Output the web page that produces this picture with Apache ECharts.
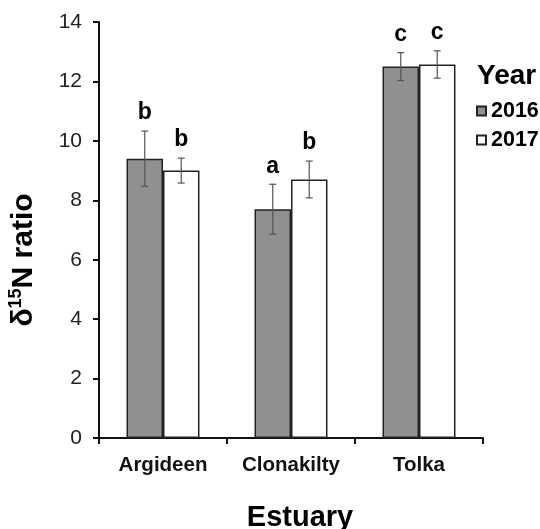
<!DOCTYPE html>
<html>
<head>
<meta charset="utf-8">
<script src="https://cdn.jsdelivr.net/npm/echarts@6/dist/echarts.min.js"></script>
<style>
  html, body { margin: 0; padding: 0; background: #fff; }
  #chart { width: 540px; height: 529px; }
</style>
</head>
<body>
<div id="chart"></div>
<script>
const categories = ['Argideen', 'Clonakilty', 'Tolka']
const mean2016 = [9.4, 7.7, 12.5]
const mean2017 = [9.0, 8.7, 12.57]
const err2016 = [0.93, 0.84, 0.47]
const err2017 = [0.42, 0.62, 0.46]
const letters2016 = ['b', 'a', 'c']
const letters2017 = ['b', 'b', 'c']
const yMin = 0
const yMax = 14
const yStep = 2

const FONT = "'Liberation Sans', Arial, sans-serif"
const BAR_FRAC = 0.285

const chart = echarts.init(document.getElementById('chart'))

// error bars + significance letters, shifted onto their bar
const errorSeries = (means, errs, letters, side) => ({
  type: 'custom',
  silent: true,
  z: 5,
  data: means.map((m, i) => [i, m, errs[i]]),
  renderItem: (params, api) => {
    const i = api.value(0)
    const m = api.value(1)
    const e = api.value(2)
    const catW = api.size([1, 0])[0]
    const off = side * catW * BAR_FRAC / 2
    const top = api.coord([i, m + e])
    const bot = api.coord([i, m - e])
    const x = top[0] + off
    const cap = 3.5
    const ls = { stroke: '#555', lineWidth: 1.2 }
    return {
      type: 'group',
      children: [
        { type: 'line', shape: { x1: x, y1: top[1], x2: x, y2: bot[1] }, style: ls },
        { type: 'line', shape: { x1: x - cap, y1: top[1], x2: x + cap, y2: top[1] }, style: ls },
        { type: 'line', shape: { x1: x - cap, y1: bot[1], x2: x + cap, y2: bot[1] }, style: ls },
        {
          type: 'text',
          style: {
            text: letters[params.dataIndex],
            x: x,
            y: top[1] - 18,
            align: 'center',
            verticalAlign: 'middle',
            font: 'bold 23px ' + FONT,
            fill: '#000'
          }
        }
      ]
    }
  }
})

const option = {
  animation: false,
  textStyle: { fontFamily: FONT },
  grid: { left: 99, right: 57, top: 22, bottom: 91 },
  title: {
    text: 'Year',
    left: 477,
    top: 62,
    padding: 0,
    textStyle: { fontFamily: FONT, fontWeight: 'bold', fontSize: 28, color: '#000' }
  },
  legend: {
    data: ['2016', '2017'],
    orient: 'vertical',
    left: 476,
    top: 100,
    padding: 0,
    icon: 'rect',
    itemWidth: 9,
    itemHeight: 9,
    itemGap: 7,
    textStyle: { fontFamily: FONT, fontWeight: 'bold', fontSize: 21.5, color: '#000' }
  },
  xAxis: {
    type: 'category',
    data: categories,
    axisLine: { lineStyle: { color: '#111', width: 2 } },
    axisTick: { show: true, length: 6, lineStyle: { color: '#111', width: 2 } },
    axisLabel: { margin: 17, fontFamily: FONT, fontWeight: 'bold', fontSize: 20.5, color: '#111' }
  },
  yAxis: {
    type: 'value',
    min: yMin,
    max: yMax,
    interval: yStep,
    splitLine: { show: false },
    axisLine: { show: true, lineStyle: { color: '#111', width: 2 } },
    axisTick: { show: true, length: 6, lineStyle: { color: '#111', width: 2 } },
    axisLabel: { margin: 17, fontFamily: FONT, fontSize: 21, color: '#222' }
  },
  graphic: [
    {
      type: 'text',
      x: 23,
      y: 260,
      rotation: Math.PI / 2,
      style: {
        text: '{b|δ}{s|15}{b|N ratio}',
        align: 'center',
        verticalAlign: 'middle',
        rich: {
          b: { font: 'bold 30px ' + FONT, fill: '#000', verticalAlign: 'bottom', lineHeight: 32 },
          s: { font: 'bold 18px ' + FONT, fill: '#000', verticalAlign: 'top', lineHeight: 32 }
        }
      }
    },
    {
      type: 'text',
      x: 300,
      y: 518,
      style: {
        text: 'Estuary',
        align: 'center',
        verticalAlign: 'middle',
        font: 'bold 29px ' + FONT,
        fill: '#000'
      }
    }
  ],
  series: [
    {
      name: '2016',
      type: 'bar',
      data: mean2016,
      barWidth: (BAR_FRAC * 100) + '%',
      barGap: '0%',
      itemStyle: { color: '#909090', borderColor: '#222', borderWidth: 1.5 }
    },
    {
      name: '2017',
      type: 'bar',
      data: mean2017,
      barWidth: (BAR_FRAC * 100) + '%',
      barGap: '0%',
      itemStyle: { color: '#ffffff', borderColor: '#222', borderWidth: 1.5 }
    },
    errorSeries(mean2016, err2016, letters2016, -1),
    errorSeries(mean2017, err2017, letters2017, 1)
  ]
}

chart.setOption(option)
</script>
</body>
</html>
